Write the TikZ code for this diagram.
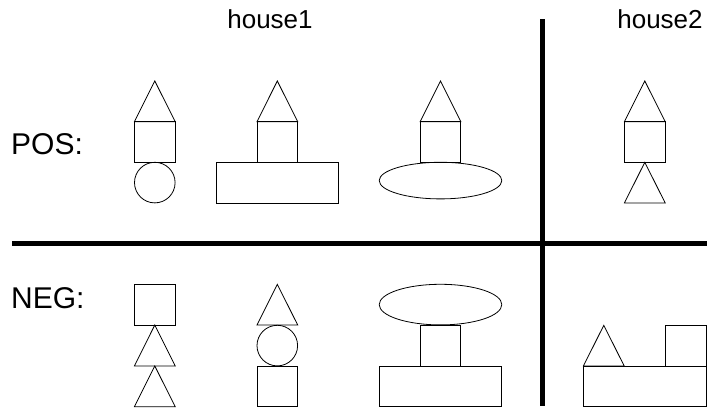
\documentclass[tikz,border=0pt]{standalone}
\usepackage{fontspec}
\setmainfont{Liberation Sans}
\usepackage{tikz}
\usetikzlibrary{positioning}

\begin{document}
\begin{tikzpicture}[x=1pt, y=-1pt,
      part/.style={draw, line width=0.8pt},
      bar/.style={draw, line width=5pt},
      head/.style={font=\fontsize{26}{30}\selectfont, anchor=base},
      rowlabel/.style={font=\fontsize{30}{34}\selectfont, anchor=base west, inner sep=0pt}]
    \useasboundingbox (0,0) rectangle (707,411);
    % --- headings and row labels ---
    \node[head] (house1) at (270,28.5) {house1};
    \node[head] (house2) at (660,28.5) {house2};
    \node[rowlabel] (pos) at (11,154.5) {POS:};
    \node[rowlabel] (neg) at (11,309) {NEG:};
    % --- dividing bars ---
    \path[bar] (12,243.5) -- (707,243.5);
    \path[bar] (542.5,19.5) -- (542.5,406);
    % --- POS row ---
    \path[part] (134.4,121.7) -- (154.8,81) -- (175.2,121.7) -- cycle;
    \path[part] (134.4,121.7) rectangle (175.2,162.3);
    \path[part] (154.8,182.6) circle (20.3);
    \path[part] (257,121.7) -- (277.3,81) -- (297.7,121.7) -- cycle;
    \path[part] (257,121.7) rectangle (297.7,162.3);
    \path[part] (216,162.3) rectangle (338.7,203);
    \path[part] (420.2,121.7) -- (440.5,81) -- (460.8,121.7) -- cycle;
    \path[part] (420.2,121.7) rectangle (460.8,162.3);
    \path[part] (440.5,180.6) ellipse (61.3 and 18.3);
    \path[part] (624.4,121.7) -- (644.8,81) -- (665.2,121.7) -- cycle;
    \path[part] (624.4,121.7) rectangle (665.2,162.3);
    \path[part] (624.4,203) -- (644.8,162.3) -- (665.2,203) -- cycle;
    % --- NEG row ---
    \path[part] (134.4,284.3) rectangle (175.2,325);
    \path[part] (134.4,366) -- (154.8,325) -- (175.2,366) -- cycle;
    \path[part] (134.4,406.7) -- (154.8,366) -- (175.2,406.7) -- cycle;
    \path[part] (257,325) -- (277.3,284.3) -- (297.7,325) -- cycle;
    \path[part] (277.3,345.6) circle (20.3);
    \path[part] (257,366) rectangle (297.7,406.7);
    \path[part] (440.5,304.6) ellipse (61.3 and 20.3);
    \path[part] (420.2,325) rectangle (460.8,366);
    \path[part] (379.2,366) rectangle (501.8,406.7);
    \path[part] (583.4,366) rectangle (706.2,406.7);
    \path[part] (583.4,366) -- (603.8,325.3) -- (624.2,366) -- cycle;
    \path[part] (665.6,325.3) rectangle (706.2,366);
  \end{tikzpicture}
\end{document}
